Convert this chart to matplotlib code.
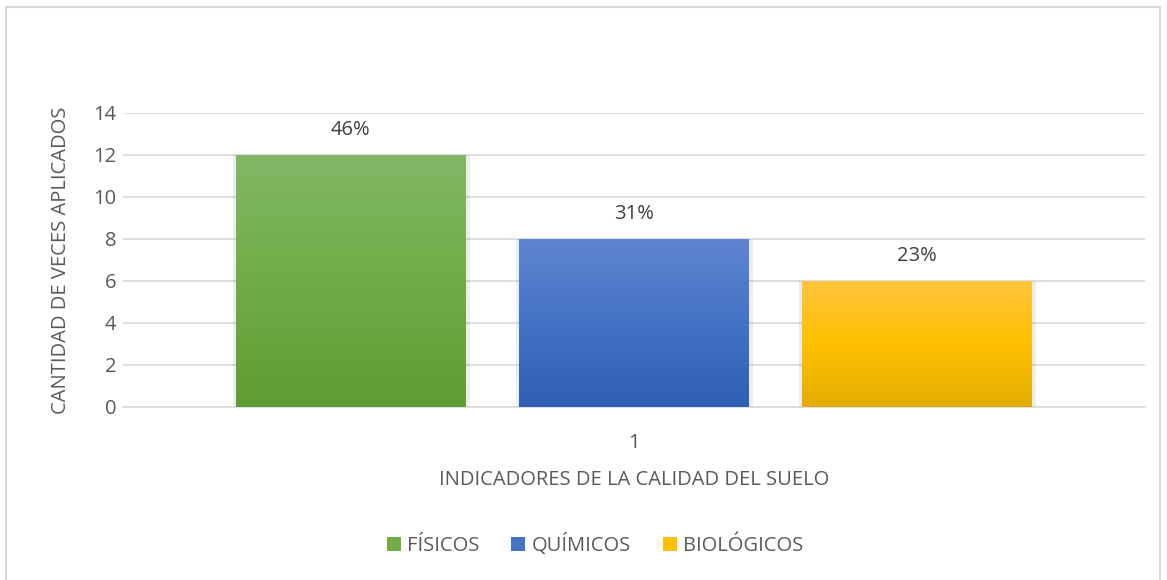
import matplotlib
matplotlib.use("Agg")
import matplotlib.pyplot as plt
import numpy as np
from matplotlib.colors import LinearSegmentedColormap
from matplotlib.patches import Rectangle
from matplotlib.lines import Line2D

categories = ["FÍSICOS", "QUÍMICOS", "BIOLÓGICOS"]
values = [12, 8, 6]
labels = ["46%", "31%", "23%"]
x_tick_labels = ["1"]
y_ticks = [0, 2, 4, 6, 8, 10, 12, 14]
ylabel = "CANTIDAD DE VECES APLICADOS"
xlabel = "INDICADORES DE LA CALIDAD DEL SUELO"

gradients = [
    ["#81b865", "#70ad47", "#5f9c33"],
    ["#5f85d0", "#4472c4", "#2f5eb5"],
    ["#ffc43f", "#ffc000", "#e2ad00"],
]
legend_colors = ["#70ad47", "#4472c4", "#ffc000"]

plt.rcParams['font.family'] = ['Open Sans', 'DejaVu Sans']
text_color = "#595959"
fs = 14.5

fig = plt.figure(figsize=(11.67, 5.8), dpi=100)
ax = fig.add_axes([0.1054, 0.2983, 0.9812 - 0.1054, 0.8052 - 0.2983])

# outer border
fig.add_artist(Line2D([6/1167, 6/1167], [0, 1 - 7/580], color="#d9d9d9", lw=1.5, transform=fig.transFigure))
fig.add_artist(Line2D([6/1167, 1160/1167], [1 - 7/580, 1 - 7/580], color="#d9d9d9", lw=1.5, transform=fig.transFigure))
fig.add_artist(Line2D([1160/1167, 1160/1167], [0, 1 - 7/580], color="#d9d9d9", lw=1.5, transform=fig.transFigure))

offsets = [-0.277, 0.0, 0.277]
width = 0.225
ax.set_xlim(0.5, 1.5)
ax.set_ylim(0, 14)

for i, (v, off) in enumerate(zip(values, offsets)):
    xc = 1 + off
    x0 = xc - width / 2
    # shadow
    sh = Rectangle((x0 - 0.003, 0), width + 0.007, v, facecolor="#000000", alpha=0.07,
                   edgecolor="none", zorder=2)
    ax.add_patch(sh)
    cmap = LinearSegmentedColormap.from_list("g%d" % i, gradients[i][::-1])
    grad = np.linspace(0, 1, 256).reshape(-1, 1)
    im = ax.imshow(grad, extent=(x0, x0 + width, 0, v), origin="lower", cmap=cmap,
                   aspect="auto", zorder=3)
    clip = Rectangle((x0, 0), width, v, transform=ax.transData, facecolor="none", edgecolor="none")
    ax.add_patch(clip)
    im.set_clip_path(clip)
    ax.text(xc, v + 0.7, labels[i], ha="center", va="bottom", fontsize=fs, color="#404040")

ax.set_xlim(0.5, 1.5)
ax.set_ylim(0, 14)
ax.set_yticks(y_ticks)
ax.set_xticks([1])
ax.set_xticklabels(x_tick_labels)
ax.yaxis.grid(True, color="#d9d9d9", lw=1.2)
ax.set_axisbelow(True)
for s in ["top", "right", "left"]:
    ax.spines[s].set_visible(False)
ax.spines["bottom"].set_color("#d9d9d9")
ax.spines["bottom"].set_linewidth(1.2)
ax.tick_params(axis="both", length=0, labelsize=fs, colors=text_color)
ax.tick_params(axis="y", pad=5)
ax.tick_params(axis="x", pad=19)
ax.set_ylabel(ylabel, fontsize=fs, color=text_color, labelpad=16)
ax.set_xlabel(xlabel, fontsize=fs, color=text_color, labelpad=12)

handles = [Rectangle((0, 0), 1, 1, facecolor=c) for c in legend_colors]
fig.legend(handles, categories, loc="center", bbox_to_anchor=(595/1167, 1 - 545/580), ncol=3,
           frameon=False, fontsize=fs, labelcolor=text_color, handlelength=0.7,
           handleheight=0.7, handletextpad=0.3, columnspacing=1.6)

fig.savefig("out.png", dpi=100)
